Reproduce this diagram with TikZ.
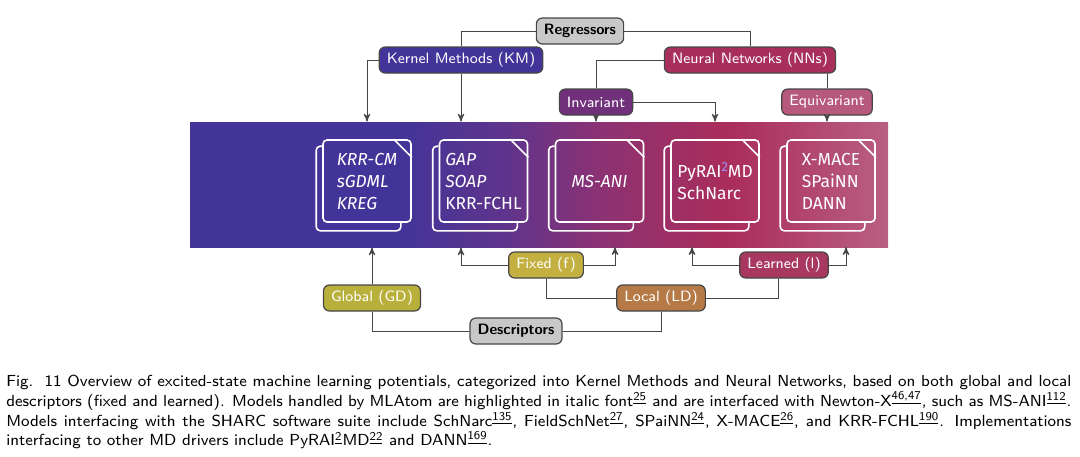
\documentclass[tikz,border=0pt]{standalone}
\usepackage{fontspec}
\newfontfamily\docfont{Fira Sans}
\usepackage{tikz}
\usetikzlibrary{arrows,shapes,calc,positioning}
\tikzset{
  >=stealth'
}
\definecolor{linegray}{RGB}{70,70,70}
\definecolor{boxgray}{RGB}{200,200,200}
\definecolor{kmblue}{RGB}{66,52,152}
\definecolor{nnred}{RGB}{168,46,92}
\definecolor{invpurple}{RGB}{112,48,122}
\definecolor{equipink}{RGB}{183,88,125}
\definecolor{globolive}{RGB}{184,176,58}
\definecolor{fixgold}{RGB}{196,176,64}
\definecolor{locbrown}{RGB}{182,122,70}
\definecolor{lrnred}{RGB}{168,56,96}
\definecolor{supblue}{RGB}{165,145,255}
\pgfdeclarehorizontalshading{bandshade}{100bp}{rgb(0bp)=(0.26,0.204,0.596); rgb(40bp)=(0.26,0.204,0.596); rgb(47.5bp)=(0.37,0.204,0.55); rgb(54.5bp)=(0.55,0.196,0.45); rgb(63.5bp)=(0.667,0.176,0.353); rgb(75bp)=(0.725,0.373,0.51); rgb(100bp)=(0.725,0.373,0.51)}
\newcommand\refsup[1]{\textsuperscript{\underline{#1}}}

\begin{document}
\begin{tikzpicture}[x=0.5pt,y=-0.5pt,
    box/.style={rectangle,rounded corners=3pt,draw=linegray,line width=0.6pt,minimum height=13pt,inner xsep=3.8pt,inner ysep=0pt,text=white,font=\fontsize{7.5}{9}\selectfont\sffamily},
    graybox/.style={box,fill=boxgray,text=black,font=\fontsize{7.5}{9}\selectfont\sffamily\bfseries},
    page/.style={rectangle,rounded corners=2pt,draw=white,line width=0.8pt,minimum width=44pt,minimum height=41pt,inner sep=0pt,text=white,align=left,font=\fontsize{8.7}{11}\selectfont\docfont},
    pageline/.style={draw=white,line width=0.8pt,rounded corners=2pt},
    link/.style={draw=linegray,line width=0.5pt}]
        \useasboundingbox (0,0) rectangle (1080,456);

        \node (band) at (539,184.5) [shading=bandshade,shading angle=0,minimum width=349pt,minimum height=62.5pt,inner sep=0pt] {};

        \node (reg) at (580,31) [graybox] {Regressors};
        \node (km) at (461,60) [box,fill=kmblue] {Kernel Methods (KM)};
        \node (nn) at (750,60) [box,fill=nnred] {Neural Networks (NNs)};
        \node (inv) at (596,102) [box,fill=invpurple] {Invariant};
        \node (equi) at (827,102) [box,fill=equipink] {Equivariant};

        \node (d1) at (367,181) [page] {\itshape KRR-CM\\\itshape sGDML\\\itshape KREG};
        \node (d2) at (483.5,181) [page] {\itshape GAP\\\itshape SOAP\\KRR-FCHL};
        \node (d3) at (599.5,181) [page] {\itshape MS-ANI};
        \node (d4) at (715,181) [page] {PyRAI\raisebox{3pt}{\fontsize{6.5}{6.5}\selectfont\color{supblue}2}MD\\SchNarc};
        \node (d5) at (831,181) [page] {X-MACE\\SPaiNN\\DANN};

        \foreach \d in {d1,d2,d3,d4,d5} {
            \draw[pageline] ($(\d.north west)+(0,7)$) -- ++(-6,0) -- ($(\d.south west)+(-6,8)$) -- ($(\d.south east)+(-11,8)$) -- ($(\d.south east)+(-11,0)$);
            \draw[pageline] ($(\d.north east)+(-18,0)$) -- ($(\d.north east)+(0,18)$);
        }

        \node (fix) at (546,265) [box,fill=fixgold] {Fixed (f)};
        \node (lrn) at (784,265) [box,fill=lrnred] {Learned (l)};
        \node (glob) at (372,298) [box,fill=globolive] {Global (GD)};
        \node (loc) at (661,298) [box,fill=locbrown] {Local (LD)};
        \node (desc) at (516,331) [graybox] {Descriptors};

        \coordinate (f2) at (615,247);
        \coordinate (l1) at (692,247);
        \coordinate (l2) at (846,247);
        \coordinate (lrnfoot) at (778,277);

        \draw[link] (reg.west) -| (km.north);
        \draw[link] (reg.east) -| (nn.north);
        \draw[link,->] (km.west) -| (band.north -| d1.north);
        \draw[link,->] (km.south) -- (band.north -| km.south);
        \draw[link] (nn.west) -| (inv.north);
        \draw[link,->] (inv.south) -- (band.north -| inv.south);
        \draw[link,->] (inv.east) -| (band.north -| d4.north);
        \draw[link] (nn.south -| equi.north) -- (equi.north);
        \draw[link,->] (equi.south) -- (band.north -| equi.south);

        \draw[link] (desc.west) -| (glob.south);
        \draw[link] (desc.east) -| (loc.south);
        \draw[link,->] (glob.north) -- (band.south -| glob.north);
        \draw[link] (loc.west) -| (fix.south);
        \draw[link] (loc.east) -| (lrnfoot |- lrn.south);
        \draw[link,->] (fix.west) -| (band.south -| km.south);
        \draw[link,->] (fix.east) -| (f2);
        \draw[link,->] (lrn.west) -| (l1);
        \draw[link,->] (lrn.east) -| (l2);

        \node (cap) at (6,375) [anchor=north west,text width=532.5pt,align=justify,inner sep=0pt,font=\fontsize{8}{9.85}\selectfont\sffamily] {Fig.\ \ 11 Overview of excited-state machine learning potentials, categorized into Kernel Methods and Neural Networks, based on both global and local\linebreak
        descriptors (fixed and learned). Models handled by MLAtom are highlighted in italic font\refsup{25} and are interfaced with Newton-X\refsup{46,47}, such as MS-ANI\refsup{112}.\linebreak
        Models interfacing with the SHARC software suite include SchNarc\refsup{135}, FieldSchNet\refsup{27}, SPaiNN\refsup{24}, X-MACE\refsup{26}, and KRR-FCHL\refsup{190}. Implementations\linebreak
        interfacing to other MD drivers include PyRAI\refsup{2}MD\refsup{22} and DANN\refsup{169}.};
    \end{tikzpicture}
\end{document}
